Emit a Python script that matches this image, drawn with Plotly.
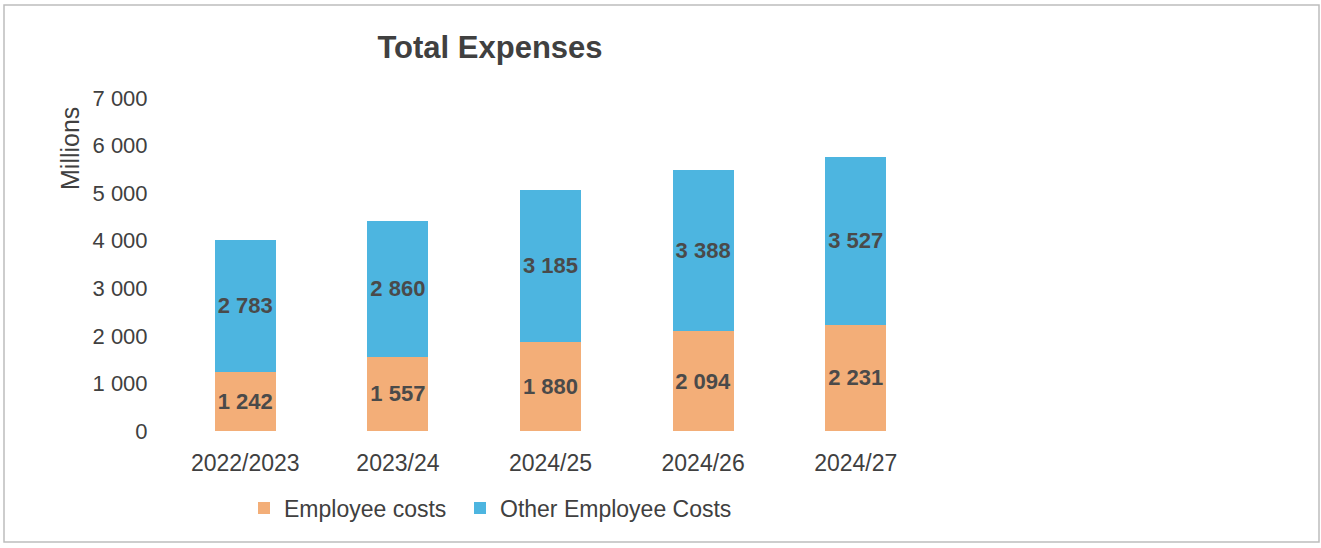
import plotly.graph_objects as go

# Financial years and expense components (millions)
years = ["2022/2023", "2023/24", "2024/25", "2024/26", "2024/27"]
employee_costs = [1242, 1557, 1880, 2094, 2231]
other_employee_costs = [2783, 2860, 3185, 3388, 3527]
y_ticks = [0, 1000, 2000, 3000, 4000, 5000, 6000, 7000]

ORANGE = "#F3AE78"
BLUE = "#4DB5E0"
TEXT = "#404040"
FONT = "Liberation Sans, Arial, sans-serif"

W, H = 1321, 548
L, R, T, B = 169, 389, 98, 117

label_font = dict(family=FONT, size=22, color="#4a4a4a", weight="bold")

fig = go.Figure()
fig.add_trace(go.Bar(
    x=years, y=employee_costs, name="Employee costs",
    marker=dict(color=ORANGE, line=dict(width=0)),
    texttemplate="%{y:,.0f}", textposition="inside",
    insidetextanchor="middle", textangle=0, constraintext="none",
    insidetextfont=label_font, legend="legend",
))
fig.add_trace(go.Bar(
    x=years, y=other_employee_costs, name="Other Employee Costs",
    marker=dict(color=BLUE, line=dict(width=0)),
    texttemplate="%{y:,.0f}", textposition="inside",
    insidetextanchor="middle", textangle=0, constraintext="none",
    insidetextfont=label_font, legend="legend2",
))

# chart frame in paper coordinates, from pixel positions
pw, ph = W - L - R, H - T - B
def px_x(p):
    return (p - L) / pw
def px_y(p):
    return (H - B - p) / ph

fig.add_shape(type="rect", xref="paper", yref="paper",
              x0=px_x(4), x1=px_x(1319), y0=px_y(542), y1=px_y(5),
              line=dict(color="#BDBDBD", width=1.5), fillcolor="rgba(0,0,0,0)",
              layer="below")

fig.add_annotation(text="Millions", xref="paper", yref="paper",
                   x=px_x(70), y=px_y(149), textangle=-90, showarrow=False,
                   font=dict(family=FONT, size=25, color=TEXT),
                   xanchor="center", yanchor="middle")

legend_style = dict(orientation="h", xanchor="left", y=px_y(508), yanchor="middle",
                    font=dict(family=FONT, size=23, color=TEXT),
                    itemwidth=30, bgcolor="rgba(0,0,0,0)")

fig.update_layout(
    width=W, height=H,
    margin=dict(l=L, r=R, t=T, b=B),
    paper_bgcolor="white", plot_bgcolor="white",
    barmode="stack", bargap=0.6,
    separators=". ",
    font=dict(family=FONT, size=22, color=TEXT),
    title=dict(text="<b>Total Expenses</b>", x=490 / W, xanchor="center",
               y=1 - 47 / H, yanchor="middle", xref="container", yref="container",
               font=dict(family=FONT, size=31, color=TEXT)),
    xaxis=dict(showgrid=False, showline=False, zeroline=False,
               ticks="outside", ticklen=11, tickcolor="rgba(0,0,0,0)",
               tickfont=dict(size=23, color=TEXT)),
    yaxis=dict(range=[0, 7000], tickvals=y_ticks, tickformat=",",
               showgrid=False, showline=False, zeroline=False,
               ticks="outside", ticklen=16, tickcolor="rgba(0,0,0,0)",
               tickfont=dict(size=22, color=TEXT)),
    legend=dict(x=px_x(244), **legend_style),
    legend2=dict(x=px_x(460), **legend_style),
    showlegend=True,
)

fig.write_html("out.html")
